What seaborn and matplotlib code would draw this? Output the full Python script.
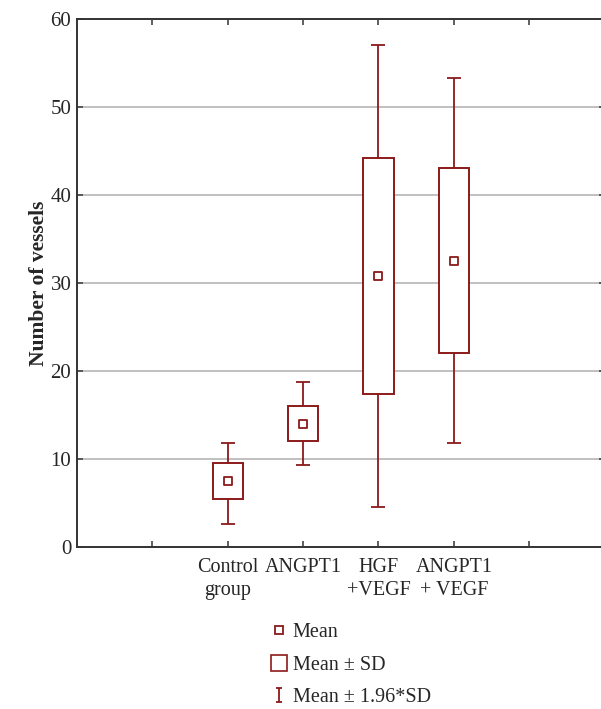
import numpy as np
import matplotlib
matplotlib.use('Agg')
import matplotlib.pyplot as plt
from matplotlib.lines import Line2D
from matplotlib.path import Path
import seaborn as sns

# values
groups = ['Control\ngroup', 'ANGPT1', 'HGF\n+VEGF', 'ANGPT1\n+ VEGF']
mean = [7.5, 14.0, 30.8, 32.5]
sd_lo = [5.4, 12.1, 17.4, 22.0]
sd_hi = [9.5, 16.0, 44.2, 43.1]
ci_lo = [2.6, 9.3, 4.5, 11.8]
ci_hi = [11.8, 18.7, 57.0, 53.3]

red = '#8b1a1a'

sns.set_theme(style='ticks')
plt.rcParams['font.family'] = ['Liberation Serif', 'DejaVu Serif']
plt.rcParams['font.size'] = 14.5

fig = plt.figure(figsize=(6.01, 7.09), dpi=100)
ax = fig.add_axes([0.128, 0.2285, 0.878, 0.7447])

pos = np.arange(len(groups))
mean_a = np.array(mean)

# whiskers (mean +- 1.96*SD)
ax.errorbar(pos, mean_a, yerr=[mean_a - np.array(ci_lo), np.array(ci_hi) - mean_a],
            fmt='none', ecolor=red, elinewidth=1.3, capsize=5, capthick=1.3, zorder=2)
# boxes (mean +- SD)
ax.bar(pos, np.array(sd_hi) - np.array(sd_lo), bottom=sd_lo, width=0.4,
       facecolor='white', edgecolor=red, linewidth=1.4, zorder=3)
# means
sns.scatterplot(x=pos, y=mean, marker='s', s=30, facecolor='white',
                edgecolor=red, linewidth=1.3, zorder=4, ax=ax)

ax.set_xlim(-2, 5)
ax.set_ylim(0, 60)
ax.set_yticks(np.arange(0, 61, 10))
ax.set_xticks(np.arange(-1, 5))
ax.set_xticklabels([''] + groups + [''], linespacing=1.3)
ax.yaxis.grid(True, color='#b5b5b5', linewidth=1.2)
ax.set_axisbelow(True)
ax.tick_params(direction='in', top=True, right=True, length=4, width=1.2,
               color='#444444', labelsize=14.5)
ax.tick_params(axis='x', pad=8)
ax.tick_params(axis='y', pad=4, labelsize=15)
for s in ax.spines.values():
    s.set_color('#333333')
    s.set_linewidth(1.4)
ax.set_ylabel('Number of vessels', fontsize=15.5, fontweight='bold', labelpad=1)

# legend
ibeam = Path([(-0.4, -1), (0.4, -1), (0, -1), (0, 1), (-0.4, 1), (0.4, 1)],
             [Path.MOVETO, Path.LINETO, Path.MOVETO, Path.LINETO, Path.MOVETO, Path.LINETO])
handles = [
    Line2D([], [], ls='none', marker='s', ms=5.4, mfc='white', mec=red, mew=1.3),
    Line2D([], [], ls='none', marker='s', ms=11, mfc='white', mec=red, mew=1.2),
    Line2D([], [], ls='none', marker=ibeam, ms=10, mec=red, mew=1.3),
]
labels = ['Mean', 'Mean \u00b1 SD', 'Mean \u00b1 1.96*SD']
fig.legend(handles, labels, loc='center left', bbox_to_anchor=(0.4315, 0.062),
           frameon=False, borderpad=0, handlelength=1.0, handletextpad=0.15,
           labelspacing=0.66, fontsize=14.5)

fig.savefig('out.png', dpi=100)
